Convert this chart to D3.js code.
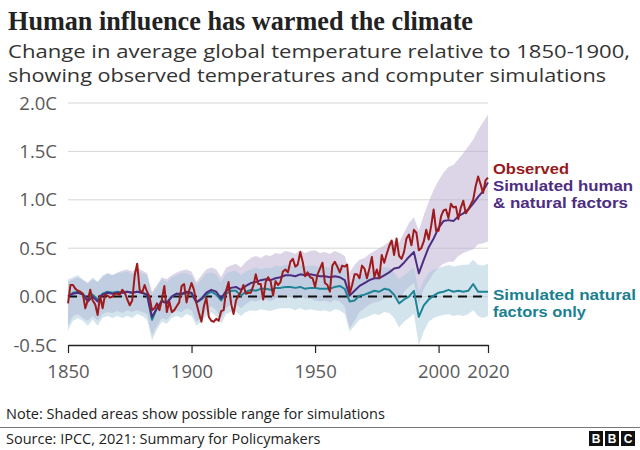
<!DOCTYPE html>
<html>
<head>
<meta charset="utf-8">
<script src="https://cdn.jsdelivr.net/npm/d3@7"></script>
<style>
  html, body { margin: 0; padding: 0; background: #fff; }
  svg { display: block; }
</style>
</head>
<body>
<svg id="chart" width="640" height="450"></svg>
<script>
// ---------- DATA ----------
const titleText = "Human influence has warmed the climate";
const subtitleLines = [
  "Change in average global temperature relative to 1850-1900,",
  "showing observed temperatures and computer simulations"
];
const noteText = "Note: Shaded areas show possible range for simulations";
const sourceText = "Source: IPCC, 2021: Summary for Policymakers";

const yTicks = [-0.5, 0, 0.5, 1.0, 1.5, 2.0];
const yTickLabels = ["-0.5C", "0.0C", "0.5C", "1.0C", "1.5C", "2.0C"];
const xTicks = [1850, 1900, 1950, 2000, 2020];

// Observed annual temperature, 1850-2020
const obsYears = d3.range(1850, 2021);
const observed = [
  -0.07, 0.12, 0.12, 0.08, 0.06, 0.05, 0.03, -0.12, -0.04, 0.07,
  -0.04, -0.08, -0.19, 0.01, -0.12, 0.02, 0.01, -0.01, 0.00, 0.03,
  0.03, 0.02, 0.07, 0.04, -0.03, -0.09, -0.04, 0.22, 0.34, 0.07,
  0.04, 0.12, 0.05, 0.00, -0.14, -0.12, -0.07, -0.14, -0.03, 0.11,
  -0.16, -0.05, -0.16, -0.14, -0.10, -0.06, 0.11, 0.13, -0.06, 0.06,
  0.14, 0.07, -0.07, -0.17, -0.26, -0.10, -0.01, -0.21, -0.25, -0.26,
  -0.23, -0.25, -0.15, -0.14, 0.06, 0.15, -0.07, -0.18, -0.04, 0.01,
  0.05, 0.12, 0.03, 0.04, 0.04, 0.11, 0.23, 0.13, 0.13, -0.03,
  0.15, 0.20, 0.16, 0.01, 0.16, 0.12, 0.15, 0.26, 0.28, 0.25,
  0.36, 0.39, 0.31, 0.33, 0.46, 0.36, 0.21, 0.25, 0.20, 0.19,
  0.10, 0.23, 0.29, 0.35, 0.14, 0.12, 0.05, 0.32, 0.36, 0.31,
  0.25, 0.32, 0.31, 0.33, 0.03, 0.12, 0.23, 0.23, 0.19, 0.32,
  0.29, 0.19, 0.29, 0.41, 0.20, 0.28, 0.19, 0.43, 0.35, 0.44,
  0.52, 0.58, 0.43, 0.60, 0.42, 0.39, 0.46, 0.60, 0.64, 0.53,
  0.69, 0.66, 0.48, 0.50, 0.57, 0.69, 0.59, 0.73, 0.90, 0.68,
  0.68, 0.83, 0.89, 0.90, 0.81, 0.96, 0.92, 0.93, 0.80, 0.92,
  0.99, 0.86, 0.90, 0.95, 1.00, 1.14, 1.24, 1.16, 1.07, 1.20, 1.23
];

// Simulations, every second year 1850-2020
const simYears = d3.range(1850, 2021, 2);
const simHuman = [
  0.00, 0.03, 0.04, 0.02, -0.05, 0.00, -0.05, 0.02, 0.04, 0.03,
  0.04, 0.04, 0.05, 0.04, 0.05, 0.04, 0.02, -0.21, -0.12, -0.05,
  -0.07, 0.00, 0.03, 0.03, 0.05, 0.04, -0.06, -0.02, 0.04, 0.07,
  0.05, -0.02, 0.06, 0.09, 0.10, 0.07, 0.11, 0.14, 0.15, 0.17,
  0.18, 0.17, 0.19, 0.20, 0.22, 0.22, 0.21, 0.23, 0.22, 0.23,
  0.22, 0.21, 0.21, 0.20, 0.21, 0.20, 0.17, 0.01, 0.06, 0.11,
  0.14, 0.17, 0.19, 0.19, 0.22, 0.25, 0.29, 0.30, 0.35, 0.41,
  0.46, 0.24, 0.38, 0.51, 0.60, 0.71, 0.78, 0.79, 0.78, 0.83,
  0.86, 0.90, 0.96, 1.03, 1.09, 1.18
];
const simNatural = [
  0.00, 0.04, 0.05, 0.03, -0.04, 0.02, -0.03, 0.03, 0.05, 0.04,
  0.05, 0.04, 0.05, 0.04, 0.05, 0.04, 0.02, -0.24, -0.12, -0.04,
  -0.06, 0.00, 0.03, 0.02, 0.04, 0.03, -0.06, -0.03, 0.02, 0.05,
  0.02, -0.04, 0.03, 0.06, 0.06, 0.01, 0.05, 0.07, 0.06, 0.08,
  0.08, 0.07, 0.09, 0.09, 0.10, 0.10, 0.09, 0.10, 0.08, 0.09,
  0.09, 0.08, 0.08, 0.08, 0.10, 0.11, 0.08, -0.05, -0.04, 0.01,
  0.02, 0.04, 0.06, 0.05, 0.08, 0.07, 0.02, -0.07, -0.03, 0.00,
  0.06, -0.21, -0.09, -0.03, 0.01, 0.04, 0.05, 0.07, 0.05, 0.06,
  0.05, 0.06, 0.13, 0.05, 0.05, 0.05
];
// Ranges (shaded areas)
const humanLow = [
  -0.30, -0.20, -0.18, -0.22, -0.25, -0.20, -0.25, -0.18, -0.16, -0.17,
  -0.15, -0.17, -0.14, -0.16, -0.14, -0.16, -0.18, -0.40, -0.30, -0.22,
  -0.24, -0.18, -0.15, -0.16, -0.12, -0.14, -0.26, -0.22, -0.14, -0.10,
  -0.14, -0.22, -0.12, -0.08, -0.08, -0.12, -0.08, -0.04, -0.05, -0.03,
  -0.03, -0.05, -0.02, 0.00, 0.02, 0.00, -0.03, 0.00, -0.02, -0.02,
  -0.04, -0.05, -0.04, -0.06, -0.03, -0.05, -0.10, -0.33, -0.25, -0.16,
  -0.12, -0.08, -0.06, -0.05, -0.02, 0.02, 0.00, -0.05, 0.05, 0.10,
  0.14, -0.08, 0.08, 0.16, 0.24, 0.30, 0.34, 0.36, 0.36, 0.42,
  0.45, 0.47, 0.49, 0.54, 0.55, 0.57
];
const humanHigh = [
  0.15, 0.18, 0.20, 0.17, 0.14, 0.18, 0.15, 0.20, 0.24, 0.22,
  0.25, 0.27, 0.28, 0.26, 0.30, 0.27, 0.24, 0.05, 0.12, 0.20,
  0.18, 0.22, 0.25, 0.27, 0.28, 0.26, 0.15, 0.22, 0.28, 0.30,
  0.28, 0.20, 0.30, 0.32, 0.34, 0.30, 0.36, 0.40, 0.42, 0.40,
  0.43, 0.42, 0.45, 0.44, 0.47, 0.46, 0.44, 0.48, 0.45, 0.47,
  0.48, 0.45, 0.46, 0.44, 0.47, 0.45, 0.42, 0.25, 0.33, 0.38,
  0.40, 0.44, 0.47, 0.50, 0.53, 0.57, 0.58, 0.56, 0.66, 0.76,
  0.82, 0.68, 0.84, 0.98, 1.10, 1.20, 1.28, 1.34, 1.36, 1.42,
  1.48, 1.55, 1.62, 1.72, 1.80, 1.88
];
const naturalLow = [
  -0.35, -0.25, -0.22, -0.25, -0.30, -0.24, -0.30, -0.22, -0.20, -0.22,
  -0.20, -0.22, -0.20, -0.22, -0.18, -0.20, -0.24, -0.45, -0.34, -0.26,
  -0.28, -0.22, -0.20, -0.22, -0.18, -0.20, -0.30, -0.26, -0.20, -0.16,
  -0.20, -0.28, -0.18, -0.16, -0.16, -0.20, -0.16, -0.14, -0.15, -0.13,
  -0.14, -0.15, -0.13, -0.12, -0.12, -0.12, -0.14, -0.12, -0.14, -0.13,
  -0.14, -0.15, -0.14, -0.16, -0.13, -0.14, -0.18, -0.36, -0.30, -0.24,
  -0.22, -0.20, -0.18, -0.19, -0.16, -0.17, -0.22, -0.32, -0.26, -0.22,
  -0.18, -0.50, -0.36, -0.26, -0.22, -0.20, -0.19, -0.18, -0.20, -0.19,
  -0.20, -0.18, -0.14, -0.20, -0.22, -0.20
];
const naturalHigh = [
  0.18, 0.20, 0.22, 0.18, 0.14, 0.20, 0.15, 0.22, 0.24, 0.22,
  0.24, 0.25, 0.26, 0.23, 0.26, 0.24, 0.22, 0.02, 0.10, 0.18,
  0.15, 0.20, 0.22, 0.24, 0.24, 0.22, 0.12, 0.18, 0.24, 0.25,
  0.23, 0.15, 0.24, 0.26, 0.27, 0.22, 0.26, 0.28, 0.30, 0.28,
  0.30, 0.29, 0.32, 0.31, 0.33, 0.32, 0.30, 0.33, 0.31, 0.32,
  0.32, 0.30, 0.31, 0.30, 0.33, 0.34, 0.30, 0.14, 0.18, 0.22,
  0.24, 0.26, 0.28, 0.27, 0.30, 0.30, 0.25, 0.18, 0.22, 0.26,
  0.30, 0.05, 0.16, 0.24, 0.28, 0.30, 0.31, 0.33, 0.31, 0.32,
  0.33, 0.33, 0.38, 0.33, 0.32, 0.34
];

const legendObserved = ["Observed"];
const legendHuman = ["Simulated human", "& natural factors"];
const legendNatural = ["Simulated natural", "factors only"];

// ---------- DRAW ----------
const svg = d3.select("#chart");
const sansFont = "'Open Sans', 'Noto Sans', sans-serif";
const legendFont = "'Liberation Sans', Arial, sans-serif";

const x = d3.scaleLinear().domain([1850, 2020]).range([68, 488]);
const y = d3.scaleLinear().domain([-0.5, 2.0]).range([345, 103]);

// Title & subtitle
svg.append("text")
  .attr("x", 8).attr("y", 30)
  .attr("font-family", "'Liberation Serif', 'DejaVu Serif', serif")
  .attr("font-weight", "bold").attr("font-size", 28)
  .attr("fill", "#222")
  .attr("textLength", 465).attr("lengthAdjust", "spacingAndGlyphs")
  .text(titleText);

svg.selectAll("text.sub").data(subtitleLines).join("text")
  .attr("class", "sub")
  .attr("x", 8).attr("y", (d, i) => 58 + i * 24)
  .attr("font-family", sansFont).attr("font-size", 19)
  .attr("fill", "#333")
  .attr("textLength", (d, i) => i === 0 ? 622 : 598)
  .attr("lengthAdjust", "spacingAndGlyphs")
  .text(d => d);

// Gridlines
const grid = svg.append("g");
grid.selectAll("line").data(yTicks.filter(v => v > -0.5)).join("line")
  .attr("x1", x(1850)).attr("x2", x(2020))
  .attr("y1", d => y(d)).attr("y2", d => y(d))
  .attr("stroke", "#d6d6d6").attr("stroke-width", 1);

// Y labels
svg.selectAll("text.ylab").data(yTicks).join("text")
  .attr("class", "ylab")
  .attr("x", 57).attr("y", d => y(d) + 6.5)
  .attr("text-anchor", "end")
  .attr("font-family", sansFont).attr("font-size", 18.5)
  .attr("fill", "#5a5a5a")
  .text((d, i) => yTickLabels[i]);

// Bands
const simRows = simYears.map((yr, i) => ({
  yr, hLo: humanLow[i], hHi: humanHigh[i], nLo: naturalLow[i], nHi: naturalHigh[i],
  h: simHuman[i], n: simNatural[i]
}));

svg.append("path").datum(simRows)
  .attr("fill", "#b9abcf").attr("fill-opacity", 0.5)
  .attr("d", d3.area().x(d => x(d.yr)).y0(d => y(d.hLo)).y1(d => y(d.hHi)));
svg.append("path").datum(simRows)
  .attr("fill", "#9fc3d6").attr("fill-opacity", 0.45)
  .attr("d", d3.area().x(d => x(d.yr)).y0(d => y(d.nLo)).y1(d => y(d.nHi)));

// Zero dashed line
svg.append("line")
  .attr("x1", x(1850)).attr("x2", x(2020))
  .attr("y1", y(0)).attr("y2", y(0))
  .attr("stroke", "#111").attr("stroke-width", 2)
  .attr("stroke-dasharray", "9,6");

// Lines
const lineSim = key => d3.line().x(d => x(d.yr)).y(d => y(d[key]));
svg.append("path").datum(simRows)
  .attr("fill", "none").attr("stroke", "#1f8496").attr("stroke-width", 2)
  .attr("stroke-linejoin", "round")
  .attr("d", lineSim("n"));
svg.append("path").datum(simRows)
  .attr("fill", "none").attr("stroke", "#4d2d82").attr("stroke-width", 2)
  .attr("stroke-linejoin", "round")
  .attr("d", lineSim("h"));

const obsRows = obsYears.map((yr, i) => ({ yr, v: observed[i] }));
svg.append("path").datum(obsRows)
  .attr("fill", "none").attr("stroke", "#9e1a1c").attr("stroke-width", 2)
  .attr("stroke-linejoin", "round")
  .attr("d", d3.line().x(d => x(d.yr)).y(d => y(d.v)));

// X axis
const xAxis = d3.axisBottom(x).tickValues(xTicks).tickFormat(d3.format("d"))
  .tickSize(8).tickPadding(12).tickSizeOuter(0);
const gx = svg.append("g").attr("transform", `translate(0,${y(-0.5)})`).call(xAxis);
gx.select(".domain").attr("stroke", "#222").attr("stroke-width", 1.5);
gx.selectAll(".tick line").attr("stroke", "#222").attr("stroke-width", 1.2);
gx.selectAll(".tick text")
  .attr("font-family", sansFont).attr("font-size", 18.5).attr("fill", "#5a5a5a");

// Legend labels
const legend = svg.append("g")
  .attr("font-family", legendFont).attr("font-weight", "bold").attr("font-size", 15)
  .attr("lengthAdjust", "spacingAndGlyphs");
legend.selectAll("text.lo").data(legendObserved).join("text")
  .attr("class", "lo")
  .attr("x", 493).attr("y", 174).attr("fill", "#97191b")
  .attr("textLength", 76).attr("lengthAdjust", "spacingAndGlyphs")
  .text(d => d);
legend.selectAll("text.lh").data(legendHuman).join("text")
  .attr("class", "lh")
  .attr("x", 493).attr("y", (d, i) => 191 + i * 17).attr("fill", "#4d2d82")
  .attr("textLength", (d, i) => i === 0 ? 140 : 135).attr("lengthAdjust", "spacingAndGlyphs")
  .text(d => d);
legend.selectAll("text.ln").data(legendNatural).join("text")
  .attr("class", "ln")
  .attr("x", 493).attr("y", (d, i) => 300 + i * 17).attr("fill", "#1b7f8f")
  .attr("textLength", (d, i) => i === 0 ? 143 : 93).attr("lengthAdjust", "spacingAndGlyphs")
  .text(d => d);

// Footer
svg.append("text").attr("x", 6).attr("y", 419)
  .attr("font-family", sansFont).attr("font-size", 14.5).attr("fill", "#222")
  .text(noteText);
svg.append("line").attr("x1", 0).attr("x2", 640).attr("y1", 427.5).attr("y2", 427.5)
  .attr("stroke", "#777").attr("stroke-width", 1);
svg.append("text").attr("x", 6).attr("y", 444)
  .attr("font-family", sansFont).attr("font-size", 14.5).attr("fill", "#222")
  .text(sourceText);

// BBC blocks
const bbc = svg.append("g").attr("transform", "translate(589,431)");
["B", "B", "C"].forEach((ch, i) => {
  bbc.append("rect").attr("x", i * 16).attr("y", 0).attr("width", 14).attr("height", 15).attr("fill", "#111");
  bbc.append("text").attr("x", i * 16 + 7).attr("y", 12).attr("text-anchor", "middle")
    .attr("font-family", "'Liberation Sans', sans-serif").attr("font-weight", "bold")
    .attr("font-size", 12).attr("fill", "#fff").text(ch);
});
</script>
</body>
</html>
